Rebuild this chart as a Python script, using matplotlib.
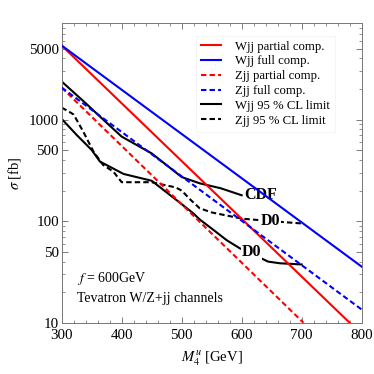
import numpy as np
import matplotlib
matplotlib.use('Agg')
import matplotlib.pyplot as plt
from matplotlib.ticker import MultipleLocator, LogLocator, FixedLocator, NullFormatter

plt.rcParams['font.family'] = ['Liberation Serif', 'DejaVu Serif']
plt.rcParams['mathtext.fontset'] = 'stix'

# theory curves (straight lines on the log plot)
wjj_partial_m = [300, 780]
wjj_partial_s = [5360, 10]
wjj_full_m = [300, 800]
wjj_full_s = [5360, 35.7]
zjj_partial_m = [300, 703]
zjj_partial_s = [2066, 10]
zjj_full_m = [300, 800]
zjj_full_s = [2066, 13.5]

# experimental 95% CL limits
cdf_wjj_m = [300, 340, 370, 400, 450, 500, 530, 565, 600]
cdf_wjj_s = [2370, 1450, 990, 680, 465, 272, 236, 211, 180]
d0_wjj_m = [300, 325, 350, 364, 380, 403, 450, 497, 519, 530, 553, 575, 597, 633, 644, 664, 700]
d0_wjj_s = [1016, 706, 502, 385, 344, 292, 250, 152, 120, 104, 82, 65, 54, 43, 40, 38.5, 37.5]
d0_zjj_m = [300, 315, 320, 336, 353, 369, 386, 400, 450, 490, 500, 515, 530, 550, 600, 650, 700]
d0_zjj_s = [1313, 1170, 1120, 760, 484, 358, 308, 242, 242, 215, 200, 162, 134, 122, 106, 100, 95]

legend_labels = ['Wjj partial comp.', 'Wjj full comp.', 'Zjj partial comp.',
                 'Zjj full comp.', 'Wjj 95 % CL limit', 'Zjj 95 % CL limit']

fig = plt.figure(figsize=(3.74, 3.74), dpi=100)
ax = fig.add_axes([0.165, 0.137, 0.802, 0.801])

lw = 1.5
dash = (0, (2.6, 1.5))
h1, = ax.plot(wjj_partial_m, wjj_partial_s, color='#ff0000', lw=lw, zorder=4)
h2, = ax.plot(wjj_full_m, wjj_full_s, color='#0000ff', lw=lw, zorder=4)
h3, = ax.plot(zjj_partial_m, zjj_partial_s, color='#ff0000', lw=lw, ls=dash, zorder=4)
h4, = ax.plot(zjj_full_m, zjj_full_s, color='#0000ff', lw=lw, ls=dash, zorder=4)
h5, = ax.plot(cdf_wjj_m, cdf_wjj_s, color='k', lw=lw, zorder=2)
ax.plot(d0_wjj_m, d0_wjj_s, color='k', lw=lw, zorder=2)
h6, = ax.plot(d0_zjj_m, d0_zjj_s, color='k', lw=lw, ls=dash, zorder=2)

box = dict(facecolor='white', edgecolor='none', pad=0.5)
ax.text(605, 180, 'CDF', fontsize=11.5, fontweight='bold', ha='left', va='center', zorder=3, bbox=box)
ax.text(648, 100, 'D0', fontsize=11.5, fontweight='bold', ha='center', va='center', zorder=3, bbox=box)
ax.text(617, 50, 'D0', fontsize=11.5, fontweight='bold', ha='center', va='center', zorder=3, bbox=box)

ax.text(325, 27.3, '$f$ = 600GeV', fontsize=10, ha='left', va='center')
ax.text(325, 17.4, 'Tevatron W/Z+jj channels', fontsize=10, ha='left', va='center')

ax.set_yscale('log')
ax.set_xlim(300, 800)
ax.set_ylim(10, 8900)
ax.xaxis.set_major_locator(MultipleLocator(100))
ax.xaxis.set_minor_locator(MultipleLocator(20))
ax.yaxis.set_major_locator(FixedLocator([10, 50, 100, 500, 1000, 5000]))
ax.yaxis.set_minor_locator(LogLocator(base=10, subs=np.arange(2, 10)))
ax.yaxis.set_minor_formatter(NullFormatter())
ax.set_yticklabels(['10', '50', '100', '500', '1000', '5000'])
ax.tick_params(which='both', direction='in', top=True, right=True, labelsize=10.8, colors='#666666',
               labelcolor='k')
ax.tick_params(axis='x', pad=4.5)
ax.tick_params(axis='y', pad=2)
ax.tick_params(which='major', length=4.5, width=0.6)
ax.tick_params(which='minor', length=2.5, width=0.5)
for s in ax.spines.values():
    s.set_color('#777777')
    s.set_linewidth(0.7)

ax.set_xlabel('$M_4^u$ [GeV]', fontsize=10.5, labelpad=5)
ax.set_ylabel('$\\sigma$ [fb]', fontsize=10.5, labelpad=4)

leg = ax.legend([h1, h2, h3, h4, h5, h6], legend_labels, loc='upper left',
                bbox_to_anchor=(0.523, 0.905), bbox_transform=fig.transFigure,
                fontsize=9.2, frameon=True, fancybox=False, framealpha=1,
                edgecolor='#f2f2f2', borderpad=0.4, borderaxespad=0,
                handlelength=1.6, handletextpad=1.05, labelspacing=0.22)
leg.get_frame().set_linewidth(0.6)

fig.savefig('out.png', dpi=100)
